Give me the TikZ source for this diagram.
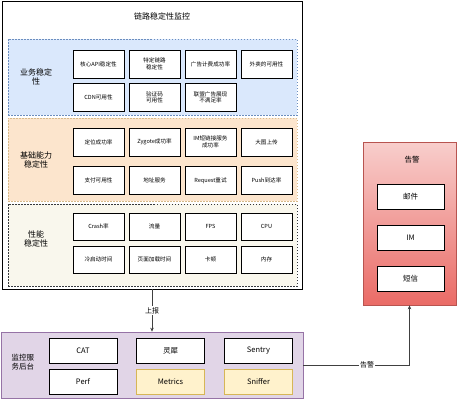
\documentclass[tikz,border=0pt]{standalone}
\usepackage{fontspec}
\setmainfont{Noto Sans CJK SC}
\usetikzlibrary{arrows.meta}
\definecolor{secblue}{HTML}{DAE8FC}
\definecolor{secblueline}{HTML}{6C8EBF}
\definecolor{secorange}{HTML}{FCE5CD}
\definecolor{secorangeline}{HTML}{D7B98A}
\definecolor{secbeige}{HTML}{F9F7ED}
\definecolor{secbeigeline}{HTML}{36393D}
\definecolor{monfill}{HTML}{E1D5E7}
\definecolor{monline}{HTML}{9673A6}
\definecolor{yfill}{HTML}{FFF2CC}
\definecolor{yline}{HTML}{D6B656}
\definecolor{alerttop}{HTML}{F8CECC}
\definecolor{alertbot}{HTML}{EA6B66}
\definecolor{alertline}{HTML}{B85450}
\tikzset{
  cell/.style={draw=black, line width=0.7pt, fill=white, minimum width=51pt, minimum height=28pt,
    inner sep=1pt, align=center, font=\fontsize{5.6}{6.6}\selectfont},
  sect/.style={dash pattern=on 1.5pt off 1.5pt, line width=0.5pt, minimum width=289pt, inner sep=0pt},
  seclabel/.style={align=center, font=\fontsize{8}{9.5}\selectfont},
  mbox/.style={draw=black, line width=0.7pt, fill=white, minimum width=68pt, minimum height=25pt,
    inner sep=1pt, font=\fontsize{7.5}{9}\selectfont},
  abox/.style={draw=black, line width=0.7pt, fill=white, minimum width=67pt, minimum height=25pt,
    inner sep=1pt, font=\fontsize{7.5}{9}\selectfont},
  conn/.style={draw=black!75, line width=0.6pt, -{Stealth[length=4pt,width=3.5pt]}},
  elabel/.style={fill=white, inner sep=1pt, font=\fontsize{7}{8}\selectfont}
}
\begin{document}
\begin{tikzpicture}[x=1pt,y=-1pt]
\useasboundingbox (0,0) rectangle (458,400);
% outer frame
\node[draw=black, line width=0.7pt, fill=white, minimum width=300pt, minimum height=288pt, inner sep=0pt] (outer) at (152,145) {};
\node[font=\fontsize{8}{9.5}\selectfont] (title) at (162,16) {链路稳定性监控};
% sections
\node[sect, draw=secblueline, fill=secblue, minimum height=76pt] (sb) at (152.5,77) {};
\node[sect, draw=secorangeline, fill=secorange, minimum height=83pt] (so) at (152.5,159.5) {};
\node[sect, draw=secbeigeline, fill=secbeige, minimum height=82pt] (sp) at (152.5,245) {};
\node[seclabel] (lb) at (36,77) {业务稳定\\性};
\node[seclabel] (lo) at (36,160) {基础能力\\稳定性};
\node[seclabel] (lp) at (36,239) {性能\\稳定性};
% blue cells
\node[cell] (b1) at (98.5,64) {核心API稳定性};
\node[cell] (b2) at (154.5,64) {特定链路\\稳定性};
\node[cell] (b3) at (210.5,64) {广告计费成功率};
\node[cell] (b4) at (266.5,64) {外卖的可用性};
\node[cell] (b5) at (98.5,97.5) {CDN可用性};
\node[cell] (b6) at (154.5,97.5) {验证码\\可用性};
\node[cell] (b7) at (210.5,97.5) {联盟广告展现\\不满足率};
% orange cells
\node[cell] (o1) at (98.5,142) {定位成功率};
\node[cell] (o2) at (154.5,142) {Zygote成功率};
\node[cell] (o3) at (210.5,142) {IM短链接服务\\成功率};
\node[cell] (o4) at (266.5,142) {大图上传};
\node[cell] (o5) at (98.5,180.5) {支付可用性};
\node[cell] (o6) at (154.5,180.5) {地址服务};
\node[cell] (o7) at (210.5,180.5) {Request重试};
\node[cell] (o8) at (266.5,180.5) {Push到达率};
% performance cells
\node[cell, minimum height=27pt] (p1) at (98.5,226.5) {Crash率};
\node[cell, minimum height=27pt] (p2) at (154.5,226.5) {流量};
\node[cell, minimum height=27pt] (p3) at (210.5,226.5) {FPS};
\node[cell, minimum height=27pt] (p4) at (266.5,226.5) {CPU};
\node[cell, minimum height=27pt] (p5) at (98.5,259.5) {冷启动时间};
\node[cell, minimum height=27pt] (p6) at (154.5,259.5) {页面加载时间};
\node[cell, minimum height=27pt] (p7) at (210.5,259.5) {卡顿};
\node[cell, minimum height=27pt] (p8) at (266.5,259.5) {内存};
% monitoring backend
\node[draw=monline, line width=0.7pt, fill=monfill, minimum width=302pt, minimum height=66pt, inner sep=0pt] (mon) at (152,365) {};
\node[seclabel, font=\fontsize{7.5}{9}\selectfont] (ml) at (23,362) {监控服\\务后台};
\node[mbox] (m1) at (83,350.5) {CAT};
\node[mbox] (m2) at (170.5,350.5) {灵犀};
\node[mbox] (m3) at (258.5,350.5) {Sentry};
\node[mbox] (m4) at (83,381.5) {Perf};
\node[mbox, draw=yline, fill=yfill] (m5) at (170.5,381.5) {Metrics};
\node[mbox, draw=yline, fill=yfill] (m6) at (258.5,381.5) {Sniffer};
% alert
\node[draw=alertline, line width=0.7pt, top color=alerttop, bottom color=alertbot, minimum width=93pt, minimum height=163pt, inner sep=0pt] (alert) at (409.5,223.5) {};
\node[font=\fontsize{7.5}{9}\selectfont] (at) at (412,160) {告警};
\node[abox] (a1) at (410.5,196.5) {邮件};
\node[abox] (a2) at (410.5,237.5) {IM};
\node[abox] (a3) at (410.5,279) {短信};
% connectors
\draw[conn] (outer.south) -- node[elabel] {上报} (mon.north);
\draw[conn] (mon.east) -| node[elabel, pos=0.3] {告警} (alert.south);
\end{tikzpicture}
\end{document}
